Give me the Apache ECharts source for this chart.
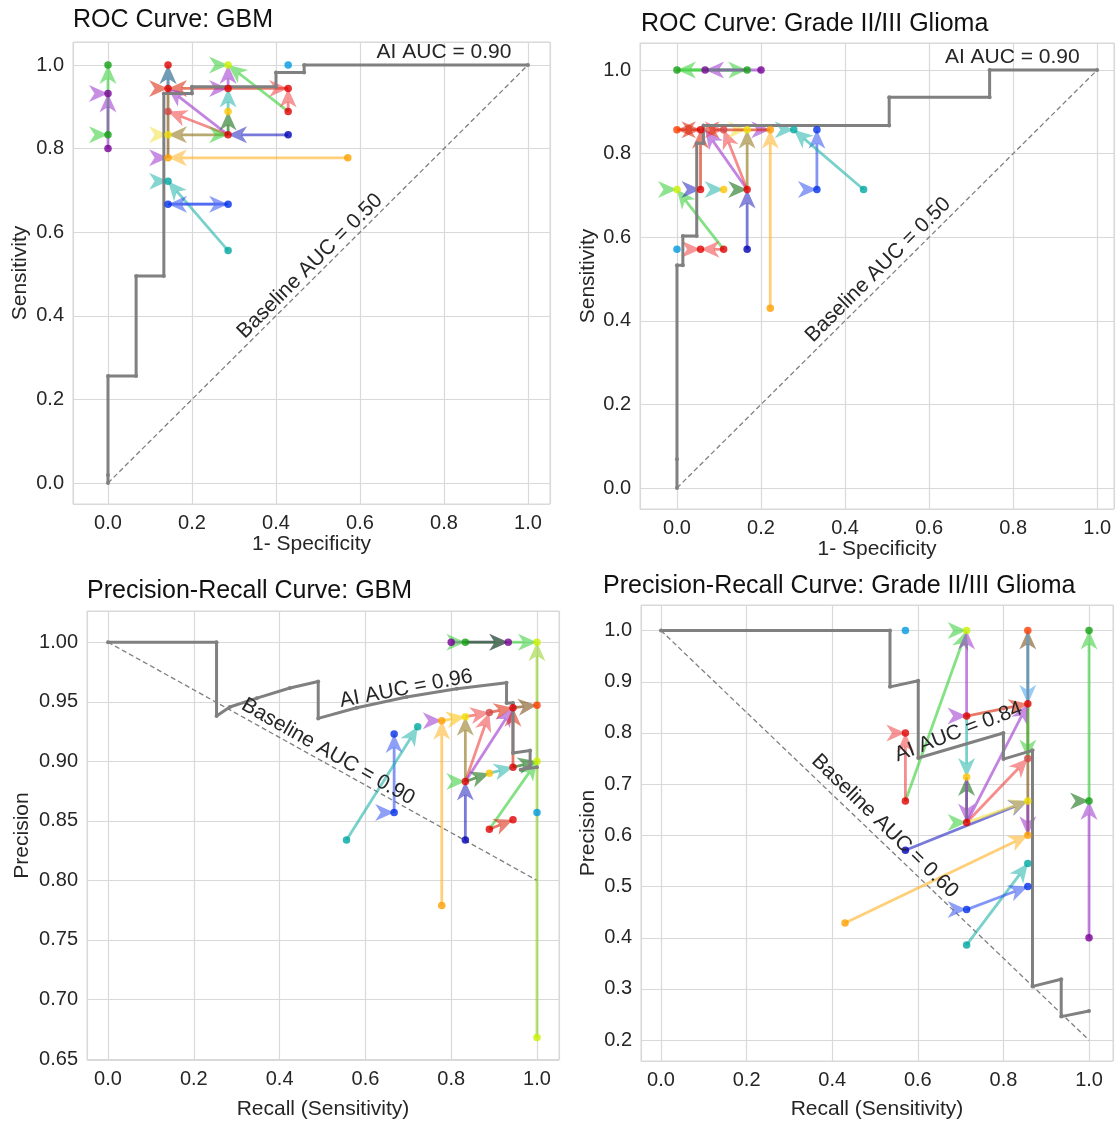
<!DOCTYPE html>
<html>
<head>
<meta charset="utf-8">
<title>ROC / PR curves</title>
<script src="https://cdn.jsdelivr.net/npm/echarts@6/dist/echarts.min.js"></script>
<style>
  html, body { margin: 0; padding: 0; background: #fff; }
  #main { width: 1116px; height: 1121px; }
</style>
</head>
<body>
<div id="main"></div>
<script>
// ---- AI curves (grey) ----
var aiRocGbm = [[0,0],[0,0.019],[0,0.256],[0.067,0.256],[0.067,0.495],[0.133,0.495],[0.133,0.932],[0.2,0.932],[0.2,0.948],[0.4,0.948],[0.4,0.982],[0.467,0.982],[0.467,1.0],[1.0,1.0]];
var aiRocGlioma = [[0,0],[0,0.069],[0,0.533],[0.014,0.533],[0.014,0.603],[0.047,0.603],[0.047,0.825],[0.063,0.825],[0.063,0.867],[0.505,0.867],[0.505,0.935],[0.744,0.935],[0.744,1.0],[1.0,1.0]];
var aiPrGbm = [[0,1.0],[0.253,1.0],[0.253,0.938],[0.284,0.9456],[0.347,0.953],[0.424,0.9615],[0.49,0.967],[0.49,0.936],[0.58,0.945],[0.696,0.954],[0.813,0.961],[0.929,0.966],[0.929,0.949],[0.944,0.949],[0.944,0.907],[0.984,0.909],[0.984,0.896],[0.962,0.893],[1.0,0.895]];
var aiPrGlioma = [[0,1.0],[0.535,1.0],[0.535,0.89],[0.601,0.902],[0.601,0.751],[0.8,0.80],[0.8,0.749],[0.868,0.766],[0.868,0.305],[0.935,0.319],[0.935,0.246],[1.0,0.257]];

// ---- baselines (dashed) ----
var baseRocGbm = [[0,0],[1,1]];
var baseRocGlioma = [[0,0],[1,1]];
var basePrGbm = [[0,1.0],[1,0.8]];
var basePrGlioma = [[0,1.0],[1,0.2]];

// ---- reader points [x, y, colour key] ----
var dotsRocGbm = [
  [0,1.0,'green'],[0,0.932,'purple'],[0,0.833,'green'],[0,0.80,'purple'],
  [0.143,1.0,'red'],[0.143,0.944,'red'],[0.143,0.889,'salmon'],[0.143,0.833,'yellow'],[0.143,0.778,'orange'],[0.143,0.722,'teal'],[0.143,0.667,'blue'],
  [0.286,1.0,'yellowgreen'],[0.286,0.944,'red'],[0.286,0.889,'gold'],[0.286,0.833,'red'],[0.286,0.667,'blue'],[0.286,0.556,'teal'],
  [0.429,1.0,'lightblue'],[0.429,0.944,'red'],[0.429,0.889,'red'],[0.429,0.833,'darkblue'],[0.571,0.778,'orange']
];
var dotsRocGlioma = [
  [0,1.0,'green'],[0.067,1.0,'purple'],[0.167,1.0,'green'],[0.2,1.0,'purple'],
  [0,0.857,'orangered'],[0.056,0.857,'red'],[0.111,0.857,'salmon'],[0.167,0.857,'yellow'],[0.222,0.857,'orange'],[0.278,0.857,'teal'],[0.333,0.857,'blue'],
  [0,0.714,'yellowgreen'],[0.056,0.714,'red'],[0.111,0.714,'gold'],[0.167,0.714,'red'],[0.333,0.714,'blue'],[0.444,0.714,'teal'],
  [0,0.571,'lightblue'],[0.056,0.571,'red'],[0.111,0.571,'red'],[0.167,0.571,'darkblue'],
  [0.222,0.43,'orange']
];
var dotsPrGbm = [
  [0.8,1.0,'purple'],[0.833,1.0,'green'],[0.933,1.0,'purple'],[1.0,1.0,'yellowgreen'],
  [0.889,0.941,'salmon'],[0.944,0.945,'red'],[1.0,0.947,'orangered'],
  [0.833,0.9375,'yellow'],[0.778,0.934,'orange'],[0.722,0.929,'teal'],[0.667,0.923,'blue'],
  [1.0,0.90,'yellowgreen'],[0.944,0.895,'red'],[0.889,0.89,'gold'],[0.833,0.883,'red'],
  [1.0,0.857,'lightblue'],[0.667,0.857,'blue'],[0.944,0.851,'red'],[0.889,0.843,'red'],
  [0.556,0.834,'teal'],[0.833,0.834,'darkblue'],[0.778,0.779,'orange'],[1.0,0.668,'yellowgreen']
];
var dotsPrGlioma = [
  [0.571,1.0,'lightblue'],[0.714,1.0,'yellowgreen'],[0.857,1.0,'orangered'],[1.0,1.0,'green'],
  [0.857,0.857,'red'],[0.714,0.833,'red'],[0.571,0.80,'red'],[0.857,0.75,'salmon'],
  [0.714,0.714,'gold'],[0.571,0.667,'red'],[0.857,0.667,'yellow'],[1.0,0.667,'green'],
  [0.714,0.625,'red'],[0.857,0.60,'orange'],[0.571,0.571,'darkblue'],[0.857,0.545,'teal'],
  [0.857,0.50,'blue'],[0.714,0.455,'blue'],[0.43,0.429,'orange'],[1.0,0.40,'purple'],[0.714,0.386,'teal']
];

// ---- reader changes [x0, y0, x1, y1, colour key] (same point = unchanged) ----
var arrowsRocGbm = [
  [0,0.833,0,1.0,'lightgreen'],[0,0.80,0,0.932,'purple'],[0,0.932,0,0.932,'purple'],[0,0.833,0,0.833,'lightgreen'],
  [0.143,0.778,0.143,1.0,'brown'],[0.143,0.944,0.143,1.0,'lightblue'],[0.143,0.944,0.143,0.944,'red'],
  [0.429,0.944,0.143,0.944,'red'],[0.286,0.833,0.143,0.944,'purple'],[0.286,0.833,0.143,0.889,'salmon'],
  [0.286,0.833,0.143,0.833,'khaki'],[0.143,0.833,0.143,0.833,'yellow'],[0.143,0.778,0.143,0.778,'purple'],
  [0.571,0.778,0.143,0.778,'orange'],[0.143,0.722,0.143,0.722,'teal'],[0.286,0.556,0.143,0.722,'teal'],
  [0.286,0.667,0.143,0.667,'blue'],[0.143,0.667,0.286,0.667,'blue'],
  [0.429,0.889,0.286,1.0,'lightgreen'],[0.286,1.0,0.286,1.0,'lightgreen'],[0.286,0.944,0.286,1.0,'purple'],
  [0.286,0.944,0.286,0.944,'purple'],[0.286,0.889,0.286,0.944,'teal'],[0.286,0.833,0.286,0.889,'darkgreen'],
  [0.286,0.833,0.286,0.833,'lightgreen'],[0.429,0.833,0.286,0.833,'darkblue'],
  [0.429,0.889,0.429,0.944,'salmon'],[0.429,0.944,0.429,0.944,'salmon']
];
var arrowsRocGlioma = [
  [0.167,1.0,0,1.0,'lightgreen'],[0,1.0,0.167,1.0,'lightgreen'],[0.2,1.0,0.067,1.0,'purple'],
  [0.056,0.714,0.056,0.857,'red'],[0.167,0.714,0.067,0.857,'purple'],[0.167,0.714,0.111,0.857,'salmon'],
  [0.167,0.714,0.167,0.857,'khaki'],[0.222,0.43,0.222,0.857,'orange'],[0.333,0.714,0.333,0.857,'blue'],
  [0.444,0.714,0.278,0.857,'teal'],[0.278,0.857,0.278,0.857,'teal'],[0.222,0.857,0.222,0.857,'purple'],
  [0.167,0.857,0.167,0.857,'yellow'],[0.111,0.857,0.111,0.857,'salmon'],
  [0.056,0.857,0,0.857,'red'],[0,0.857,0.056,0.857,'red'],[0.222,0.857,0.056,0.857,'red'],
  [0.111,0.571,0,0.714,'lightgreen'],[0,0.714,0,0.714,'lightgreen'],[0.333,0.714,0.333,0.714,'blue'],
  [0.167,0.571,0.167,0.714,'darkblue'],[0.056,0.714,0.056,0.714,'darkblue'],[0.111,0.714,0.111,0.714,'teal'],
  [0.167,0.714,0.167,0.714,'darkgreen'],
  [0.111,0.571,0.056,0.571,'salmon'],[0.056,0.571,0.056,0.571,'salmon']
];
var arrowsPrGbm = [
  [0.8,1.0,0.933,1.0,'purple'],[0.833,1.0,0.933,1.0,'darkgreen'],[0.833,1.0,0.833,1.0,'lightgreen'],
  [0.933,1.0,1.0,1.0,'lightgreen'],[1.0,0.668,1.0,1.0,'yellowgreen'],
  [0.889,0.843,1.0,0.90,'lightgreen'],[0.889,0.843,0.944,0.851,'red'],
  [0.833,0.834,0.833,0.883,'darkblue'],[0.833,0.883,0.833,0.883,'lightgreen'],[0.833,0.883,0.889,0.89,'darkgreen'],
  [0.833,0.883,0.889,0.941,'salmon'],[0.833,0.883,0.944,0.945,'purple'],[0.833,0.883,0.833,0.9375,'khaki'],
  [0.778,0.779,0.778,0.934,'orange'],[0.778,0.934,0.778,0.934,'purple'],
  [0.667,0.857,0.667,0.923,'blue'],[0.667,0.857,0.667,0.857,'blue'],[0.556,0.834,0.722,0.929,'teal'],
  [0.944,0.895,0.944,0.945,'red'],[0.889,0.941,0.944,0.945,'red'],[0.944,0.945,1.0,0.947,'brown'],
  [0.889,0.89,0.944,0.895,'teal'],[0.944,0.895,1.0,0.90,'darkgreen'],
  [0.778,0.934,0.833,0.9375,'gold'],[0.833,0.9375,0.889,0.941,'salmon']
];
var arrowsPrGlioma = [
  [0.571,0.667,0.714,1.0,'lightgreen'],[0.714,1.0,0.714,1.0,'lightgreen'],[0.714,0.833,0.714,1.0,'purple'],
  [0.571,0.667,0.571,0.80,'salmon'],[0.571,0.80,0.571,0.80,'salmon'],[0.714,0.833,0.714,0.833,'purple'],
  [0.714,0.833,0.857,0.857,'red'],[0.857,0.60,0.857,1.0,'brown'],[0.857,1.0,0.857,0.857,'lightblue'],
  [0.857,0.857,0.857,0.75,'lightgreen'],[0.714,0.625,0.857,0.75,'salmon'],[0.714,0.625,0.857,0.857,'purple'],
  [0.571,0.571,0.857,0.667,'darkblue'],[0.714,0.625,0.857,0.667,'yellow'],[0.714,0.625,0.714,0.714,'darkgreen'],
  [0.714,0.833,0.714,0.714,'teal'],[0.714,0.714,0.714,0.625,'purple'],[0.714,0.625,0.714,0.625,'lightgreen'],
  [0.43,0.429,0.857,0.60,'orange'],[0.857,0.667,0.857,0.60,'purple'],[0.714,0.386,0.857,0.545,'teal'],
  [0.714,0.455,0.857,0.50,'blue'],[0.714,0.455,0.714,0.455,'blue'],
  [1.0,0.667,1.0,1.0,'lightgreen'],[1.0,0.667,1.0,0.667,'darkgreen'],[1.0,0.40,1.0,0.667,'purple']
];

// ---- text ----
var panelTitles = ['ROC Curve: GBM', 'ROC Curve: Grade II/III Glioma', 'Precision-Recall Curve: GBM', 'Precision-Recall Curve: Grade II/III Glioma'];
var xNames = ['1- Specificity', '1- Specificity', 'Recall (Sensitivity)', 'Recall (Sensitivity)'];
var yNames = ['Sensitivity', 'Sensitivity', 'Precision', 'Precision'];
var aiLabels = ['AI AUC = 0.90', 'AI AUC = 0.90', 'AI AUC = 0.96', 'AI AUC = 0.84'];
var baseLabels = ['Baseline AUC = 0.50', 'Baseline AUC = 0.50', 'Baseline AUC = 0.90', 'Baseline AUC = 0.60'];

var dotColors = {
  red: '#e00000', green: '#10a010', purple: '#780096', orange: '#ffa000', yellow: '#f0e000',
  gold: '#ffc400', teal: '#00a8a0', blue: '#0030e8', darkblue: '#0000b4', lightblue: '#0098e0',
  yellowgreen: '#c8f000', orangered: '#ff3c00', salmon: '#d04848'
};
var arrowColors = {
  lightgreen: '#32cd32', purple: '#9932cc', salmon: '#f04040', orange: '#ffb020', teal: '#20b2aa',
  blue: '#3050f0', darkblue: '#2020c0', khaki: '#8a7010', brown: '#704000', darkgreen: '#006400',
  red: '#d81e00', lightblue: '#40a0f0', yellowgreen: '#90d020', yellow: '#f0e040', gold: '#ffc000'
};

var FONT = '"Liberation Sans", Arial, sans-serif';
var TXT = '#262626';

var panels = [
  { ai: aiRocGbm, base: baseRocGbm, dots: dotsRocGbm, arrows: arrowsRocGbm,
    rect: [73, 42, 477, 462], xr: [-0.0833, 1.0524], yr: [-0.0502, 1.055], dec: [1, 1],
    xGap: 30, yGap: 42, aiAt: [0.8, 1.031, 0], baseAt: [0.481, 0.519, 44.9] },
  { ai: aiRocGlioma, base: baseRocGlioma, dots: dotsRocGlioma, arrows: arrowsRocGlioma,
    rect: [640, 43, 474, 466], xr: [-0.088, 1.040], yr: [-0.0502, 1.0646], dec: [1, 1],
    xGap: 30, yGap: 41, aiAt: [0.798, 1.031, 0], baseAt: [0.479, 0.522, 44.9] },
  { ai: aiPrGbm, base: basePrGbm, dots: dotsPrGbm, arrows: arrowsPrGbm,
    rect: [87, 611, 472, 460], xr: [-0.049, 1.0513], yr: [0.6492, 1.0262], dec: [1, 2],
    xGap: 39, yGap: 54, aiAt: [0.695, 0.961, 10.8], baseAt: [0.513, 0.908, -29.6] },
  { ai: aiPrGlioma, base: basePrGlioma, dots: dotsPrGlioma, arrows: arrowsPrGlioma,
    rect: [641, 605, 472, 463], xr: [-0.0467, 1.056], yr: [0.1593, 1.0499], dec: [1, 1],
    xGap: 38, yGap: 42, aiAt: [0.695, 0.802, 20.9], baseAt: [0.523, 0.618, -44.3] }
];
var titleTops = [[73, 8], [641, 12], [87, 579], [603, 574]];

function arrowRenderer(list) {
  return function (params, api) {
    var a = list[params.dataIndex];
    var p0 = api.coord([a[0], a[1]]);
    var p1 = api.coord([a[2], a[3]]);
    var dx = p1[0] - p0[0], dy = p1[1] - p0[1];
    var len = Math.sqrt(dx * dx + dy * dy);
    var ux = 1, uy = 0;
    if (len > 0.5) { ux = dx / len; uy = dy / len; }
    var nx = -uy, ny = ux;
    var L = 19, W = 8.5, N = 5.5;
    var bx = p1[0] - L * ux, by = p1[1] - L * uy;
    var notch = [p1[0] - (L - N) * ux, p1[1] - (L - N) * uy];
    var color = arrowColors[a[4]];
    var children = [];
    if (len > 0.5) {
      children.push({
        type: 'line',
        shape: { x1: p0[0], y1: p0[1], x2: len > L ? notch[0] : p1[0], y2: len > L ? notch[1] : p1[1] },
        style: { stroke: color, lineWidth: 2.8, opacity: 0.6 }
      });
    }
    children.push({
      type: 'polygon',
      shape: { points: [[p1[0], p1[1]], [bx + W * nx, by + W * ny], notch, [bx - W * nx, by - W * ny]] },
      style: { fill: color, opacity: 0.55 }
    });
    return { type: 'group', children: children };
  };
}

var grids = [], xAxes = [], yAxes = [], series = [], titles = [];
panels.forEach(function (p, i) {
  grids.push({ left: p.rect[0], top: p.rect[1], width: p.rect[2], height: p.rect[3],
    show: true, borderColor: '#d9d9d9', borderWidth: 1, containLabel: false });
  titles.push({ text: panelTitles[i], left: titleTops[i][0], top: titleTops[i][1], padding: 0,
    textStyle: { fontFamily: FONT, fontSize: 25, fontWeight: 'normal', color: '#111' } });
  xAxes.push({
    type: 'value', gridIndex: i, min: p.xr[0], max: p.xr[1], splitNumber: 5,
    name: xNames[i], nameLocation: 'middle', nameGap: p.xGap, nameMoveOverlap: false,
    nameTextStyle: { fontFamily: FONT, fontSize: 21, color: TXT },
    axisLine: { show: false }, axisTick: { show: false },
    axisLabel: { fontFamily: FONT, fontSize: 20, color: TXT, margin: 9, showMinLabel: false, showMaxLabel: false,
      formatter: function (v) { return v.toFixed(p.dec[0]); } },
    splitLine: { lineStyle: { color: '#d9d9d9', width: 1.2 } }
  });
  yAxes.push({
    type: 'value', gridIndex: i, min: p.yr[0], max: p.yr[1], splitNumber: i === 2 ? 8 : (i === 3 ? 9 : 5),
    name: yNames[i], nameLocation: 'middle', nameGap: p.yGap, nameMoveOverlap: false,
    nameTextStyle: { fontFamily: FONT, fontSize: 21, color: TXT },
    axisLine: { show: false }, axisTick: { show: false },
    axisLabel: { fontFamily: FONT, fontSize: 20, color: TXT, margin: 9, showMinLabel: false, showMaxLabel: false,
      formatter: function (v) { return v.toFixed(p.dec[1]); } },
    splitLine: { lineStyle: { color: '#d9d9d9', width: 1.2 } }
  });
  series.push({
    type: 'line', xAxisIndex: i, yAxisIndex: i, data: p.base, symbol: 'none', z: 1,
    lineStyle: { color: '#7f7f7f', width: 1.3, type: [5, 3] }, silent: true
  });
  series.push({
    type: 'custom', xAxisIndex: i, yAxisIndex: i, z: 2,
    data: p.arrows.map(function (a) { return [a[0], a[1], a[2], a[3]]; }),
    encode: { x: [0, 2], y: [1, 3] },
    renderItem: arrowRenderer(p.arrows), silent: true
  });
  series.push({
    type: 'line', xAxisIndex: i, yAxisIndex: i, data: p.ai, z: 3,
    symbol: 'circle', symbolSize: 4, showSymbol: true,
    itemStyle: { color: '#808080' }, lineStyle: { color: '#808080', width: 3 }, silent: true
  });
  series.push({
    type: 'scatter', xAxisIndex: i, yAxisIndex: i, z: 4, symbolSize: 7.5,
    data: p.dots.map(function (d) { return { value: [d[0], d[1]], itemStyle: { color: dotColors[d[2]] } }; }),
    silent: true
  });
});

var chart = echarts.init(document.getElementById('main'), null, { renderer: 'canvas' });
chart.setOption({
  animation: false,
  backgroundColor: '#ffffff',
  title: titles,
  grid: grids,
  xAxis: xAxes,
  yAxis: yAxes,
  series: series
});

// annotation texts anchored in data space
var notes = [];
panels.forEach(function (p, i) {
  [[aiLabels[i], p.aiAt], [baseLabels[i], p.baseAt]].forEach(function (n) {
    var px = chart.convertToPixel({ gridIndex: i }, [n[1][0], n[1][1]]);
    notes.push({
      type: 'text', x: px[0], y: px[1], rotation: n[1][2] * Math.PI / 180, z: 10,
      style: { text: n[0], x: 0, y: 0, align: 'center', verticalAlign: 'middle',
        textAlign: 'center', textVerticalAlign: 'middle',
        font: '21px ' + FONT, fill: TXT }
    });
  });
});
chart.setOption({ graphic: notes });
</script>
</body>
</html>
